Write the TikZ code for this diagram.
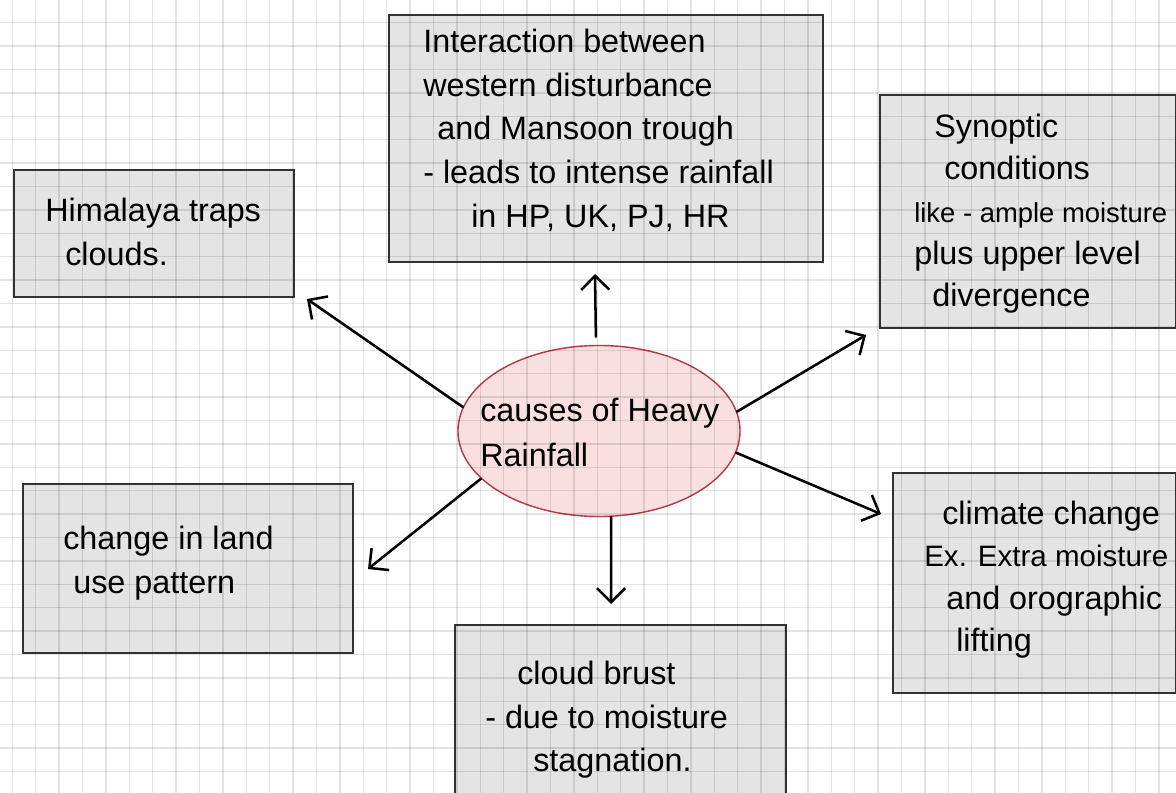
\documentclass[tikz,border=0pt]{standalone}
\usepackage{fontspec}
\setmainfont{Liberation Sans}
\usetikzlibrary{calc, arrows.meta, shapes.geometric}

\definecolor{boxfill}{HTML}{E4E4E4}
\definecolor{hubfill}{HTML}{F9DFDF}
\definecolor{hubline}{HTML}{B03A45}

\begin{document}
\begin{tikzpicture}[x=0.025cm, y=-0.025cm,
  box/.style={draw=black!80, line width=1.2pt, fill=boxfill, anchor=north west, inner sep=0pt},
  hub/.style={ellipse, draw=hubline, line width=1pt, fill=hubfill, minimum width=7.05cm,
    minimum height=4.275cm, inner sep=0pt},
  txt/.style={anchor=north west, inner sep=0pt, align=left, font=\fontsize{23}{31}\selectfont},
  arr/.style={-{Straight Barb[length=3.5mm, width=7mm]}, line width=1.8pt, line cap=round},
  gridline/.style={black, opacity=0.11, line width=0.9pt}]

  \useasboundingbox (0,0) rectangle (1176,793);
  \clip (0,0) rectangle (1176,793);
  \fill[white] (0,0) rectangle (1176,793);

  % 六个方框
  \node[box, minimum width=7cm, minimum height=3.175cm] (himalaya) at (13,169) {};
  \node[box, minimum width=10.85cm, minimum height=6.175cm] (interaction) at (388,14) {};
  \node[box, minimum width=7.4cm, minimum height=5.825cm] (synoptic) at (879,94) {};
  \node[box, minimum width=7.075cm, minimum height=5.5cm] (climate) at (892,472) {};
  \node[box, minimum width=8.275cm, minimum height=5cm] (cloud) at (454,624) {};
  \node[box, minimum width=8.25cm, minimum height=4.225cm] (landuse) at (22,483) {};

  % 中心椭圆
  \node[hub] (hub) at (599,431) {};
  \node[txt, font=\fontsize{23}{32}\selectfont] (hubTxt) at (480,398) {causes of Heavy\\Rainfall};

  % 方框里的文字
  \node[txt] (himTxt) at (45,198) {Himalaya traps\\\hspace*{0.5cm}clouds.};
  \node[txt] (intTxt) at (423,29) {Interaction between\\western disturbance\\
    \hspace*{0.35cm}and Mansoon trough\\- leads to intense rainfall\\\hspace*{1.2cm}in HP, UK, PJ, HR};
  \node[txt, font=\fontsize{23}{30}\selectfont] (synTxt) at (914,114)
    {\hspace*{0.5cm}Synoptic\\\hspace*{0.75cm}conditions\\{\fontsize{19.5}{30}\selectfont like - ample moisture}\\
    plus upper level\\\hspace*{0.45cm}divergence};
  \node[txt, font=\fontsize{23}{30}\selectfont] (cliTxt) at (924,501)
    {\hspace*{0.45cm}climate change\\{\fontsize{21}{30}\selectfont Ex. Extra moisture}\\\hspace*{0.55cm}and orographic\\
    \hspace*{0.8cm}lifting};
  \node[txt] (cloudTxt) at (485,661) {\hspace*{0.8cm}cloud brust\\- due to moisture\\
    \hspace*{1.2cm}stagnation.};
  \node[txt] (landTxt) at (63,526) {change in land\\\hspace*{0.25cm}use pattern};

  % 箭头
  \coordinate (tipHim) at (307,299);
  \coordinate (tipInt) at (595,274);
  \coordinate (tipSyn) at (866,335);
  \coordinate (tipCli) at (881,514);
  \coordinate (tipCld) at (611,604);
  \coordinate (tipLnd) at (368,569);

  \draw[arr] (hub.170) -- (tipHim);
  \draw[arr, shorten <=0.2cm] (hub.92) -- (tipInt);
  \draw[arr] (hub.8) -- (tipSyn);
  \draw[arr] (hub.-9) -- (tipCli);
  \draw[arr] (hub.-82) -- (tipCld);
  \draw[arr] (hub.202) -- (tipLnd);

  % 方格纸
  \foreach \i in {0,...,49}
    \draw[gridline] (12.3+\i*23.4, 0) -- ++(0,793);
  \foreach \j in {-1,...,33}
    \draw[gridline] (0, 22.7+\j*23.4) -- ++(1176,0);
\end{tikzpicture}
\end{document}
